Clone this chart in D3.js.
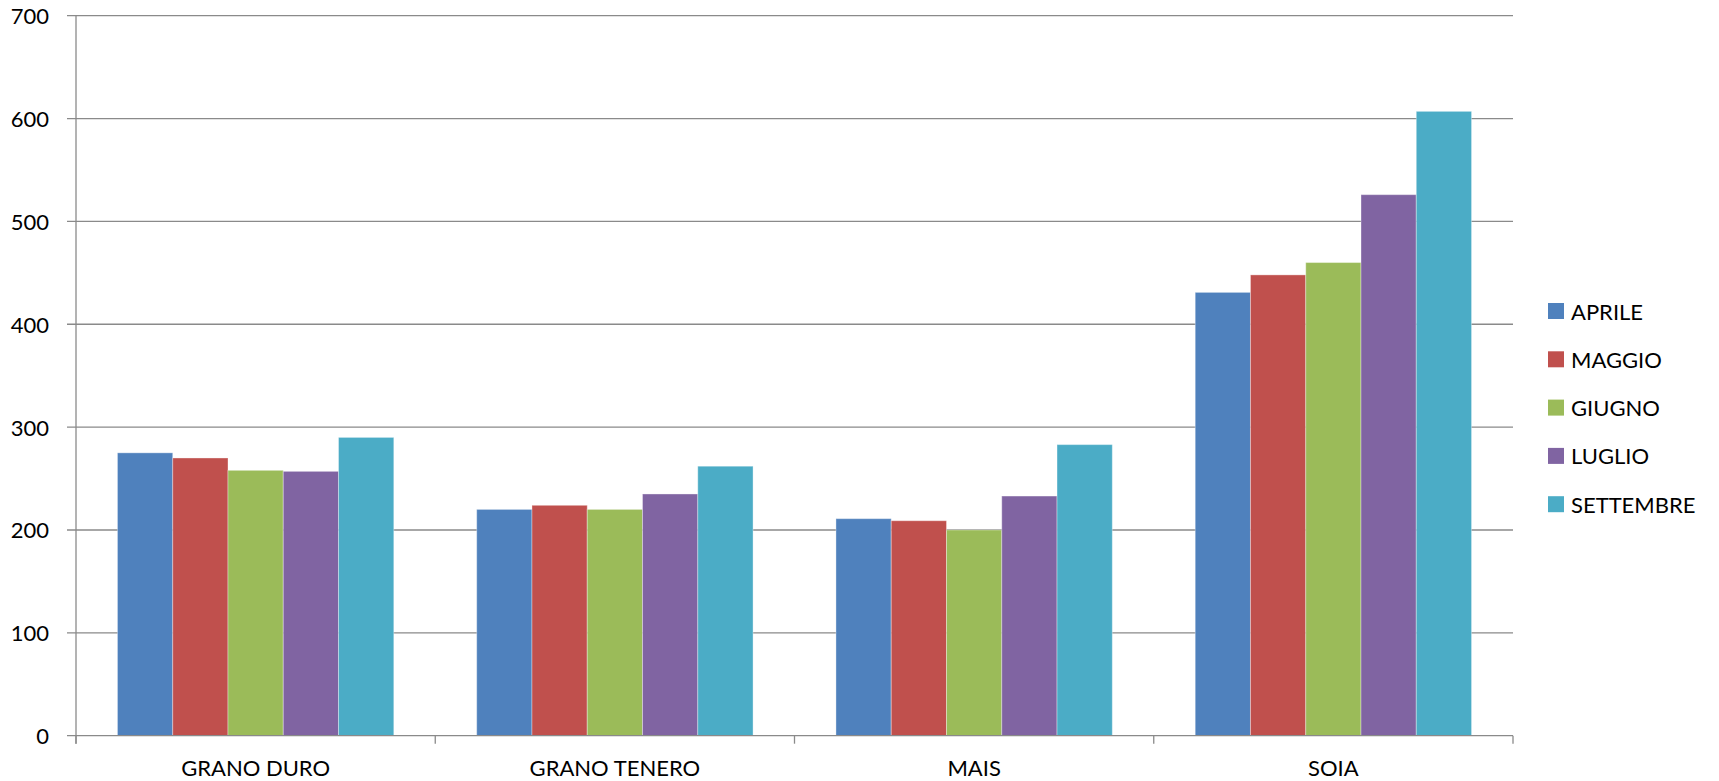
<!DOCTYPE html>
<html>
<head>
<meta charset="utf-8">
<script src="https://cdn.jsdelivr.net/npm/d3@7"></script>
<style>
  html, body { margin: 0; padding: 0; background: #fff; }
  text { font-family: Lato, "Open Sans", sans-serif; fill: #000; }
</style>
</head>
<body>
<div id="chart"></div>
<script>
// data
const CATEGORIES = ["GRANO DURO", "GRANO TENERO", "MAIS", "SOIA"];
const SERIES     = ["APRILE", "MAGGIO", "GIUGNO", "LUGLIO", "SETTEMBRE"];
const COLORS     = ["#4F81BD", "#C0504D", "#9BBB59", "#8064A2", "#4BACC6"];
const APRILE     = [275, 220, 211, 431];
const MAGGIO     = [270, 224, 209, 448];
const GIUGNO     = [258, 220, 200, 460];
const LUGLIO     = [257, 235, 233, 526];
const SETTEMBRE  = [290, 262, 283, 607];
const Y_TICKS    = [0, 100, 200, 300, 400, 500, 600, 700];

const VALUES = [APRILE, MAGGIO, GIUGNO, LUGLIO, SETTEMBRE];

const W = 1719, H = 781;
const plot = { left: 76, right: 1513, top: 15.7, bottom: 735.7 };
const FONT = "22px";

const svg = d3.select("#chart").append("svg")
  .attr("width", W).attr("height", H);

const x0 = d3.scaleBand()
  .domain(CATEGORIES)
  .range([plot.left, plot.right])
  .paddingInner(0).paddingOuter(0);

// gap between clusters = 150% of a bar
const x1 = d3.scaleBand()
  .domain(SERIES)
  .range([0, x0.bandwidth()])
  .paddingInner(0).paddingOuter(0.75);

const y = d3.scaleLinear()
  .domain([0, 700])
  .range([plot.bottom, plot.top]);

const color = d3.scaleOrdinal().domain(SERIES).range(COLORS);

// ── gridlines + y ticks ─────────────────────────────────────────────
svg.append("g").attr("class", "grid")
  .selectAll("line")
  .data(Y_TICKS.filter(d => d > 0))
  .join("line")
    .attr("x1", plot.left - 9)
    .attr("x2", plot.right)
    .attr("y1", d => y(d))
    .attr("y2", d => y(d))
    .attr("stroke", "#8a8a8a")
    .attr("stroke-width", 1.3);

svg.append("g").attr("class", "yLabels")
  .selectAll("text")
  .data(Y_TICKS)
  .join("text")
    .attr("x", 49)
    .attr("y", d => y(d))
    .attr("text-anchor", "end")
    .attr("dominant-baseline", "central")
    .style("font-size", FONT)
    .text(d => d);

// ── bars ────────────────────────────────────────────────────────────
const rows = CATEGORIES.map((c, ci) => ({
  cat: c,
  vals: SERIES.map((s, si) => ({ series: s, value: VALUES[si][ci] }))
}));

svg.append("g").attr("class", "bars")
  .selectAll("g")
  .data(rows)
  .join("g")
    .attr("transform", d => `translate(${x0(d.cat)},0)`)
  .selectAll("rect")
  .data(d => d.vals)
  .join("rect")
    .attr("x", d => x1(d.series))
    .attr("y", d => y(d.value))
    .attr("width", x1.bandwidth())
    .attr("height", d => y(0) - y(d.value))
    .attr("fill", d => color(d.series))
    .attr("stroke", "rgba(255,255,255,0.35)")
    .attr("stroke-width", 1);

// ── axes ────────────────────────────────────────────────────────────
const axisG = svg.append("g").attr("class", "axes")
  .attr("stroke", "#8a8a8a").attr("stroke-width", 1.3);

axisG.append("line")
  .attr("x1", plot.left - 9).attr("x2", plot.right)
  .attr("y1", y(0)).attr("y2", y(0));

axisG.append("line")
  .attr("x1", plot.left).attr("x2", plot.left)
  .attr("y1", y(700)).attr("y2", y(0) + 8);

axisG.selectAll(".xTick")
  .data(CATEGORIES.map(c => x0(c)).concat([plot.right]))
  .join("line")
    .attr("class", "xTick")
    .attr("x1", d => d).attr("x2", d => d)
    .attr("y1", y(0)).attr("y2", y(0) + 8);

svg.append("g").attr("class", "xLabels")
  .selectAll("text")
  .data(CATEGORIES)
  .join("text")
    .attr("x", d => x0(d) + x0.bandwidth() / 2)
    .attr("y", 776)
    .attr("text-anchor", "middle")
    .style("font-size", FONT)
    .text(d => d);

// ── legend ──────────────────────────────────────────────────────────
const legend = svg.append("g").attr("class", "legend")
  .attr("transform", "translate(1548,311)");

const item = legend.selectAll("g")
  .data(SERIES)
  .join("g")
    .attr("transform", (d, i) => `translate(0,${i * 48.3})`);

item.append("rect")
  .attr("y", -8).attr("width", 16).attr("height", 16)
  .attr("fill", d => color(d));

item.append("text")
  .attr("x", 23)
  .attr("dominant-baseline", "central")
  .style("font-size", FONT)
  .text(d => d);
</script>
</body>
</html>
